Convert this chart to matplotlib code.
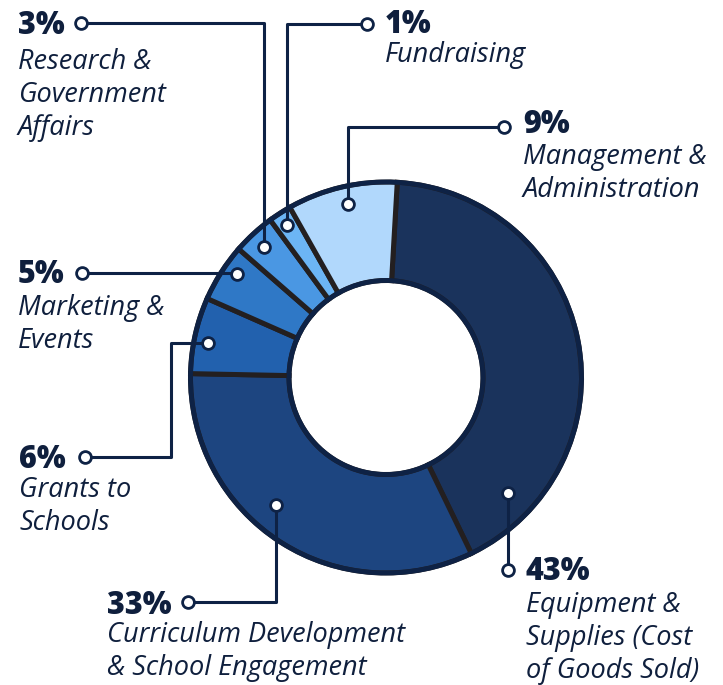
import numpy as np
import matplotlib
matplotlib.use("Agg")
import matplotlib.pyplot as plt
from matplotlib.patches import Circle

# wedge shares as drawn (clockwise from the top), and the printed labels
categories = [
    "Equipment &\nSupplies (Cost\nof Goods Sold)",
    "Curriculum Development\n& School Engagement",
    "Grants to\nSchools",
    "Marketing &\nEvents",
    "Research &\nGovernment\nAffairs",
    "Fundraising",
    "Management &\nAdministration",
]
shares = [41.9, 32.5, 6.3, 4.8, 3.5, 1.9, 9.1]
pct_labels = ["43%", "33%", "6%", "5%", "3%", "1%", "9%"]
colors = ["#1a335c", "#1d4580", "#2261ae", "#2f78c6", "#4a97e3", "#6cb5f5", "#b1d8fc"]

NAVY = "#0e2245"
SEP = "#231f20"
TEXT = "#0f1f3d"

W, H = 723, 685
CX, CY = 386, 377.5  # pixel coords, y from top
R_OUT, R_IN = 195.5, 97

# label layout: text x, percent baseline, first name baseline, label circle (x, y),
# elbow x (None = anchor x), anchor on the ring (angle deg, radius px)
layout = [
    dict(tx=526, base=580, first=612, circ=(508, 570), elbow=None, anchor=(-43.4, 168.4)),
    dict(tx=107, base=614, first=642, circ=(188, 602), elbow=None, anchor=(-130.7, 168.8)),
    dict(tx=19, base=468, first=497, circ=(85, 457), elbow=171, anchor=(169.1, 181.6)),
    dict(tx=18, base=283, first=315, circ=(82, 273), elbow=None, anchor=(145.1, 181.7)),
    dict(tx=18, base=34, first=69, circ=(81, 23), elbow=None, anchor=(133.0, 179.0)),
    dict(tx=385, base=33, first=62, circ=(367, 24), elbow=None, anchor=(122.9, 182.0)),
    dict(tx=523, base=133, first=164, circ=(504, 127), elbow=None, anchor=(102.2, 177.8)),
]
LINE_GAP = 33


def Y(y):
    return H - y


fig = plt.figure(figsize=(W / 100, H / 100), dpi=100)
ax = fig.add_axes([0, 0, 1, 1])

ax.pie(shares, colors=colors, startangle=86.7, counterclock=False,
       radius=R_OUT, center=(CX, Y(CY)), frame=True,
       wedgeprops=dict(width=R_OUT - R_IN, edgecolor=SEP, linewidth=3.6))
ax.add_patch(Circle((CX, Y(CY)), R_OUT, fill=False, edgecolor=NAVY, lw=3.4, zorder=3))
ax.add_patch(Circle((CX, Y(CY)), R_IN, fill=False, edgecolor=NAVY, lw=3.4, zorder=3))

for cat, pct, lay in zip(categories, pct_labels, layout):
    ang, r = lay["anchor"]
    axp = CX + r * np.cos(np.radians(ang))
    ayp = CY - r * np.sin(np.radians(ang))
    cx, cy = lay["circ"]
    ex = axp if lay["elbow"] is None else lay["elbow"]
    xs = [cx, ex, ex, axp]
    ys = [cy, cy, ayp, ayp]
    ax.plot(xs, [Y(v) for v in ys], color=NAVY, lw=2.2, solid_joinstyle="round",
            solid_capstyle="round", zorder=4)
    ax.plot([cx, axp], [Y(cy), Y(ayp)], "o", ms=8.5, mfc="white", mec=NAVY, mew=2.0,
            zorder=5)

    ax.text(lay["tx"], Y(lay["base"]), pct, fontsize=22, fontweight=800,
            family="Open Sans", color=TEXT, va="baseline", ha="left")
    for i, line in enumerate(cat.split("\n")):
        ax.text(lay["tx"], Y(lay["first"] + i * LINE_GAP), line, fontsize=19.5,
                style="italic", family="Open Sans", color=TEXT, va="baseline", ha="left")

ax.set_xlim(0, W)
ax.set_ylim(0, H)
ax.set_aspect("equal")
ax.axis("off")

fig.savefig("out.png", dpi=100, facecolor="white")
